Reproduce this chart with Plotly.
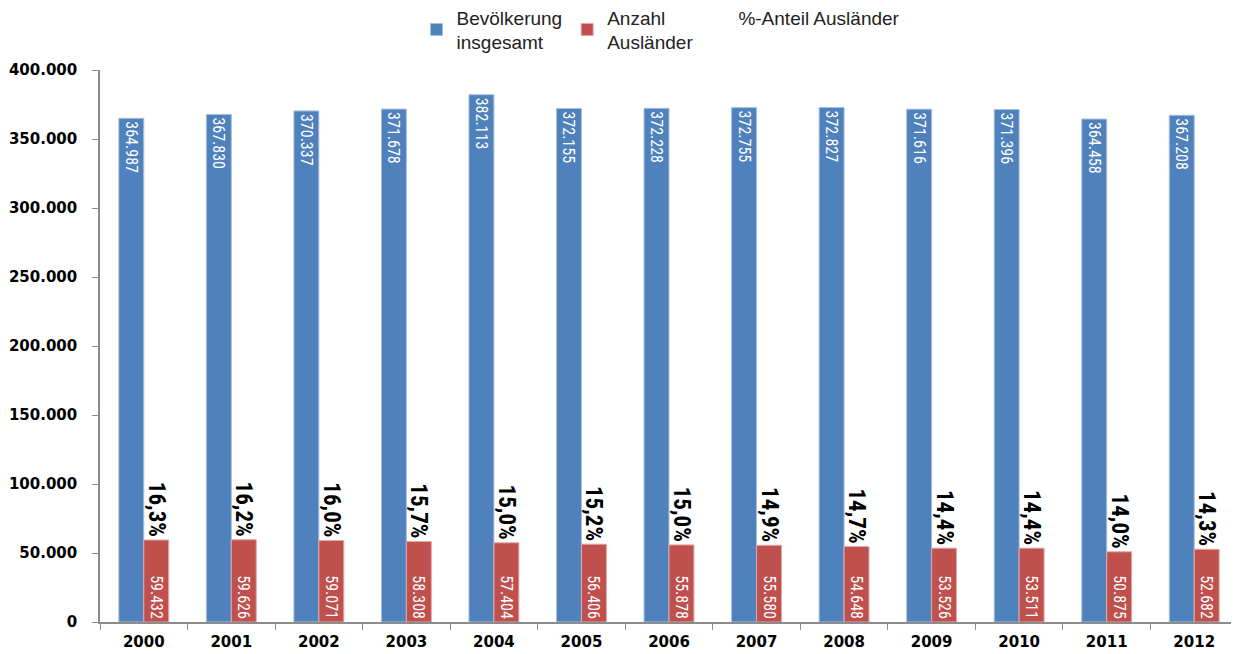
import plotly.graph_objects as go

years = ["2000", "2001", "2002", "2003", "2004", "2005", "2006", "2007", "2008", "2009", "2010", "2011", "2012"]
bevoelkerung = [364987, 367830, 370337, 371678, 382113, 372155, 372228, 372755, 372827, 371616, 371396, 364458, 367208]
auslaender = [59432, 59626, 59071, 58308, 57404, 56406, 55878, 55580, 54648, 53526, 53511, 50875, 52682]
anteil = [16.3, 16.2, 16.0, 15.7, 15.0, 15.2, 15.0, 14.9, 14.7, 14.4, 14.4, 14.0, 14.3]
tick_vals = [0, 50000, 100000, 150000, 200000, 250000, 300000, 350000, 400000]

BLUE = "#4F81BD"
RED = "#C0504D"
NARROW = "Liberation Sans Narrow, Arial Narrow, Roboto Condensed, sans-serif"

fig = go.Figure()
fig.add_trace(go.Bar(
    x=years, y=bevoelkerung, name="Bevölkerung<br>insgesamt",
    offsetgroup="a",
    marker=dict(color=BLUE, line=dict(color="#A7C0DE", width=1)),
    texttemplate="%{y:,}", textposition="inside", insidetextanchor="end",
    textangle=90, textfont=dict(family=NARROW, size=16, color="white"),
    constraintext="none",
))
fig.add_trace(go.Bar(
    x=years, y=auslaender, name="Anzahl<br>Ausländer",
    offsetgroup="b",
    marker=dict(color=RED, line=dict(color="#E0A9A7", width=1)),
    texttemplate="%{y:,}", textposition="inside", insidetextanchor="start",
    textangle=90, textfont=dict(family=NARROW, size=16, color="white"),
    constraintext="none",
))
fig.add_trace(go.Bar(
    x=years, y=auslaender, name="%-Anteil Ausländer",
    offsetgroup="b", customdata=anteil,
    marker=dict(color="rgba(0,0,0,0)", line=dict(width=0)),
    texttemplate="%{customdata:.1f}%", textposition="outside",
    textangle=90, textfont=dict(family=NARROW, size=23, color="black", weight="bold"),
    constraintext="none", cliponaxis=False, hoverinfo="skip",
))

fig.update_layout(
    width=1231, height=646,
    barmode="group", bargap=0.43, bargroupgap=0,
    separators=",.",
    plot_bgcolor="white", paper_bgcolor="white",
    margin=dict(l=92, r=1, t=62, b=32, autoexpand=False),
    legend=dict(orientation="h", x=0.493, xanchor="center", y=1.13, yanchor="top",
                font=dict(family="Liberation Sans, Arial, sans-serif", size=19, color="#222"),
                traceorder="normal", itemwidth=30),
    xaxis=dict(showline=True, linecolor="#8C8C8C", linewidth=1.5, automargin=False,
               ticks="outside", tickson="boundaries", ticklen=6, tickcolor="#8C8C8C",
               ticklabelstandoff=5,
               tickfont=dict(family="DejaVu Sans", size=15, color="black", weight="bold")),
    yaxis=dict(range=[0, 400000], tickvals=tick_vals, tickformat=",", automargin=False,
               showgrid=False, zeroline=False, showline=True, linecolor="#8C8C8C", linewidth=1.5,
               ticks="outside", ticklen=6, tickcolor="#8C8C8C", ticklabelstandoff=12,
               tickfont=dict(family="DejaVu Sans", size=15, color="black", weight="bold")),
)

fig.write_html("out.html")
